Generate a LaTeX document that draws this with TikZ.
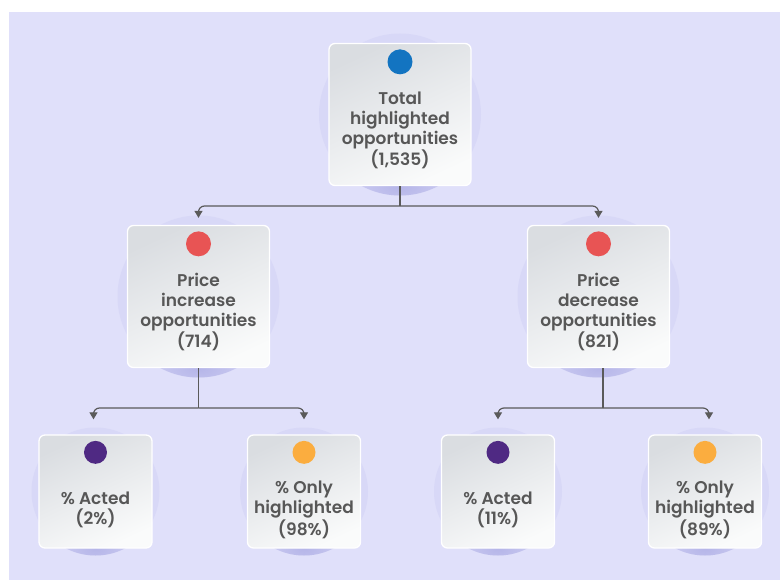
\documentclass[tikz,border=0pt]{standalone}
\usepackage{fontspec}
\setmainfont{Poppins}[BoldFont={Poppins SemiBold}]
\usepackage{xcolor}
\usepackage{tikz}
\usetikzlibrary{arrows.meta}

\definecolor{bgLav}{HTML}{E0E0FA}
\definecolor{haloLav}{HTML}{D8D8F7}
\definecolor{haloDark}{HTML}{B5B5E8}
\definecolor{cardTop}{HTML}{DADDE1}
\definecolor{cardBot}{HTML}{FAFBFB}
\definecolor{wireGray}{HTML}{5A5A5A}
\definecolor{txtGray}{HTML}{575757}
\definecolor{dotBlue}{HTML}{1374C1}
\definecolor{dotRed}{HTML}{E85454}
\definecolor{dotPurple}{HTML}{4F2983}
\definecolor{dotOrange}{HTML}{FBAD3F}

\tikzset{
	card/.style={shape=rectangle, rounded corners=6pt, draw=white, line width=1.3pt, top color=cardTop, bottom color=cardBot, shading angle=25, inner sep=0, minimum width=#1, minimum height=#1},
	dot/.style={shape=circle, fill=#1, inner sep=0, minimum size=25pt},
	cardtext/.style={text=txtGray, font=\fontsize{17}{20}\selectfont\bfseries, align=center},
	wire/.style={draw=wireGray, line width=1.2pt, rounded corners=6pt, -{Triangle[width=8pt,length=7pt]}},
}

\begin{document}
\begin{tikzpicture}[x=1pt, y=-1pt]
	\useasboundingbox (0, 0) rectangle (780, 580);
	\fill[white] (0, 0) rectangle (780, 580);
	\fill[bgLav] (9, 12) rectangle (780, 580);
	% Halos behind the cards:
	\foreach \cx/\cy/\r/\h in {400/114.5/81/71, 198.5/296.5/81/71, 598.5/296.5/81/71, 95.5/491.5/64/56.5, 304/491.5/64/56.5, 498/491.5/64/56.5, 705/491.5/64/56.5}{
		\fill[haloLav] (\cx, \cy) circle (\r);
		\begin{scope}
			\clip (\cx, \cy) circle (\r);
			\shade[inner color=haloDark, outer color=haloLav] (\cx, \cy+\h) ellipse ({1.1*\h} and 40);
		\end{scope}
	}
	% Cards, dots and texts:
	\node[card=142pt](Box1) at (400, 114.5){};
	\node[dot=dotBlue](Dot1) at ([yshift=-19pt]Box1.north){};
	\node[cardtext](Txt1) at (400, 130.5){Total\\highlighted\\opportunities\\(1,535)};
	\node[card=142pt](Box2) at (198.5, 296.5){};
	\node[dot=dotRed](Dot2) at ([yshift=-19pt]Box2.north){};
	\node[cardtext](Txt2) at (198.5, 312){Price\\increase\\opportunities\\(714)};
	\node[card=142pt](Box3) at (598.5, 296.5){};
	\node[dot=dotRed](Dot3) at ([yshift=-19pt]Box3.north){};
	\node[cardtext](Txt3) at (598.5, 312){Price\\decrease\\opportunities\\(821)};
	\node[card=113pt](Box4) at (95.5, 491.5){};
	\node[dot=dotPurple, minimum size=23pt](Dot4) at ([yshift=-18pt]Box4.north){};
	\node[cardtext](Txt4) at (95.5, 509.5){\% Acted\\(2\%)};
	\node[card=113pt](Box5) at (304, 491.5){};
	\node[dot=dotOrange, minimum size=23pt](Dot5) at ([yshift=-18pt]Box5.north){};
	\node[cardtext](Txt5) at (304, 510){\% Only\\highlighted\\(98\%)};
	\node[card=113pt](Box6) at (498, 491.5){};
	\node[dot=dotPurple, minimum size=23pt](Dot6) at ([yshift=-18pt]Box6.north){};
	\node[cardtext](Txt6) at (498, 509.5){\% Acted\\(11\%)};
	\node[card=113pt](Box7) at (705, 491.5){};
	\node[dot=dotOrange, minimum size=23pt](Dot7) at ([yshift=-18pt]Box7.north){};
	\node[cardtext](Txt7) at (705, 510){\% Only\\highlighted\\(89\%)};
	% Wires:
	\coordinate (J1) at (400, 206);
	\coordinate (J2) at (198.5, 408);
	\coordinate (J3) at (603, 408);
	\draw[wireGray, line width=1.2pt] (Box1.south) -- (J1);
	\draw[wire, shorten >=7pt] (J1) -| (Box2.north);
	\draw[wire, shorten >=7pt] (J1) -| (Box3.north);
	\draw[wireGray, line width=1.2pt] (Box2.south) -- (J2);
	\draw[wire, shorten >=15pt] (J2) -| ([xshift=-2pt]Box4.north);
	\draw[wire, shorten >=15pt] (J2) -| (Box5.north);
	\draw[wireGray, line width=1.2pt] (Box3.south -| J3) -- (J3);
	\draw[wire, shorten >=15pt] (J3) -| (Box6.north);
	\draw[wire, shorten >=15pt] (J3) -| ([xshift=4pt]Box7.north);
\end{tikzpicture}
\end{document}
